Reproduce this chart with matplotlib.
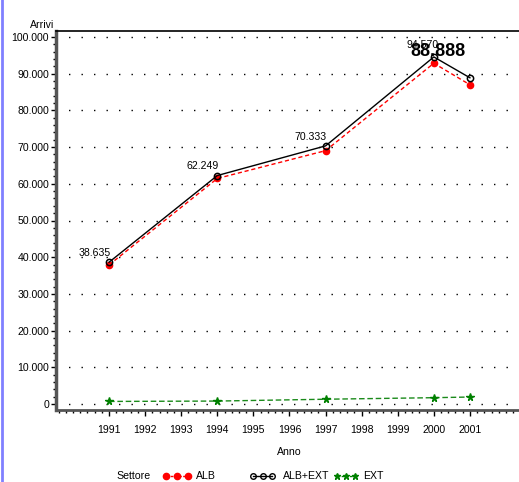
import matplotlib
matplotlib.use("Agg")
import matplotlib.pyplot as plt
from matplotlib.ticker import MultipleLocator, FuncFormatter
from matplotlib.lines import Line2D

years = [1991, 1994, 1997, 2000, 2001]
alb = [37900, 61450, 69030, 92850, 86990]
alb_ext = [38635, 62249, 70333, 94570, 88888]
ext = [700, 800, 1300, 1720, 1900]
point_labels = ["38.635", "62.249", "70.333", "94.570", "88.888"]
tick_years = list(range(1991, 2002))
series_names = ["ALB", "ALB+EXT", "EXT"]

plt.rcParams['font.family'] = ['Liberation Sans', 'DejaVu Sans']
FS = 7.6

fig = plt.figure(figsize=(5.19, 4.82), dpi=100)
W, H = 519, 482
ax = fig.add_axes([56 / W, (H - 410) / H, (519 - 56) / W, (410 - 31) / H])

ax.set_xlim(1989.53, 2002.36)
ax.set_ylim(-1635, 101635)

for y in range(0, 100001, 10000):
    ax.axhline(y, color='black', linestyle=(0, (1, 8)), linewidth=1.0, zorder=0)

ax.plot(years, alb, color='red', linestyle=(0, (3, 2)), linewidth=1.0,
        marker='o', markersize=4.5, markerfacecolor='red', markeredgecolor='red', zorder=3)
ax.plot(years, alb_ext, color='black', linestyle='-', linewidth=1.0,
        marker='o', markersize=4.5, markerfacecolor='none', markeredgecolor='black',
        markeredgewidth=1.1, zorder=4)
ax.plot(years, ext, color='#1a8a1a', linestyle=(0, (4, 2)), linewidth=1.0,
        marker='*', markersize=5.5, markerfacecolor='green', markeredgecolor='green', zorder=3)

for i, (x, y, lab) in enumerate(zip(years, alb_ext, point_labels)):
    if i < 3:
        ax.annotate(lab, (x, y), xytext=(1, 3), textcoords='offset points',
                    ha='right', va='bottom', fontsize=FS, zorder=5)
ax.annotate(point_labels[3], (years[3], alb_ext[3]), xytext=(-19.5, 8.6), textcoords='offset points',
            ha='left', va='center', fontsize=FS, zorder=5)
ax.annotate(point_labels[4], (years[3], alb_ext[3]), xytext=(3, 3.6), textcoords='offset points',
            ha='center', va='center', fontsize=13, fontweight='bold', zorder=6)

ax.spines['right'].set_visible(False)
ax.spines['top'].set_linewidth(1.2)
ax.spines['left'].set_linewidth(2.5)
ax.spines['left'].set_color('#555555')
ax.spines['bottom'].set_linewidth(2.0)
ax.spines['bottom'].set_color('#555555')

ax.yaxis.set_major_locator(MultipleLocator(10000))
ax.yaxis.set_minor_locator(MultipleLocator(2000))
ax.yaxis.set_major_formatter(FuncFormatter(lambda v, p: f"{int(v):,}".replace(",", ".")))
ax.set_xticks(tick_years)
ax.set_xticklabels([str(t) for t in tick_years])
ax.xaxis.set_minor_locator(MultipleLocator(0.2))
ax.tick_params(axis='y', which='major', length=3.5, width=1, labelsize=FS, pad=1.5)
ax.tick_params(axis='y', which='minor', length=2, width=1)
ax.tick_params(axis='x', which='major', length=4.5, width=1, labelsize=FS, pad=6)
ax.tick_params(axis='x', which='minor', length=2.2, width=1)

fig.text(42 / W, 1 - 25 / H, "Arrivi", ha='center', va='center', fontsize=FS)
fig.text(289 / W, 1 - 452 / H, "Anno", ha='center', va='center', fontsize=FS)

# legend
ly = 1 - 476 / H
fig.text(116 / W, ly, "Settore", ha='left', va='center', fontsize=FS)
def leg(x0, x1, color, ls, marker, mfc, ms, tx, label):
    xs = [x0 / W, (x0 + x1) / 2 / W, x1 / W]
    fig.add_artist(Line2D(xs, [ly] * 3, color=color, linestyle=ls, linewidth=1.0,
                          marker=marker, markersize=ms, markerfacecolor=mfc, markeredgecolor=color,
                          transform=fig.transFigure))
    fig.text(tx / W, ly, label, ha='left', va='center', fontsize=FS)
leg(166, 188, 'red', (0, (2, 1)), 'o', 'red', 4.5, 196, series_names[0])
leg(253, 272, 'black', '-', 'o', 'none', 4, 283, series_names[1])
leg(337, 355, 'green', (0, (2, 1)), '*', 'green', 5, 363, series_names[2])

# left page border
fig.add_artist(Line2D([1.5 / W, 1.5 / W], [0, 1], color='#8080ff', linewidth=2, transform=fig.transFigure))

fig.savefig("out.png", dpi=100)
